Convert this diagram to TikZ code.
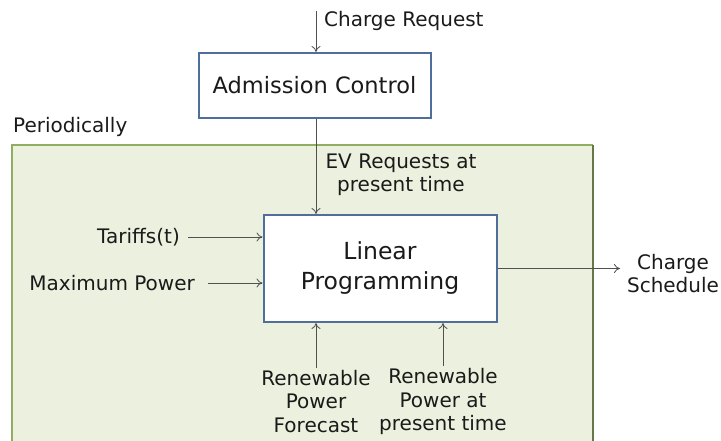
\documentclass[tikz,border=0pt]{standalone}
\usepackage{fontspec}
\setmainfont{DejaVu Sans}
\usetikzlibrary{arrows.meta}
\definecolor{framefill}{HTML}{EBF1DE}
\definecolor{frameline}{HTML}{8FAE62}
\definecolor{frameshade}{HTML}{66784A}
\definecolor{boxline}{HTML}{4F6E9C}
\definecolor{arrowcol}{HTML}{505050}
\definecolor{txt}{HTML}{1A1A1A}
\tikzset{
  procbox/.style={draw=boxline, line width=2pt, fill=white, inner sep=0pt},
  lbl/.style={text=txt, font=\fontsize{20}{23.5}\selectfont, align=center, inner sep=0pt},
  conn/.style={draw=arrowcol, line width=0.8pt, -{To[length=6pt,width=9pt]}},
}
\begin{document}
\begin{tikzpicture}[x=1pt,y=-1pt]
\useasboundingbox (0,0) rectangle (721,441);
% periodic frame
\fill[framefill] (12,145) rectangle (593,450);
\draw[frameline, line width=2.5pt] (12,450) -- (12,145) -- (593,145);
\draw[frameshade, line width=2.5pt] (593,145) -- (593,450);
\node[lbl, anchor=west] (per) at (13,127) {Periodically};
% boxes
\node[procbox, minimum width=232pt, minimum height=65pt, font=\fontsize{22.5}{26}\selectfont, text=txt] (adm) at (314.5,85.5) {Admission Control};
\node[procbox, minimum width=233pt, minimum height=107pt, font=\fontsize{23.5}{30}\selectfont, text=txt, align=center] (lp) at (380,268.5) {Linear\\Programming};
% labels
\coordinate (crtop) at (316,11);
\node[lbl, anchor=west] (cr) at (324,21) {Charge Request};
\node[lbl] (ev) at (401,175) {EV Requests at\\present time};
\node[lbl, anchor=east] (tar) at (180,237) {Tariffs(t)};
\node[lbl, anchor=east] (maxp) at (195,283) {Maximum Power};
\node[lbl] (cs) at (673,273.5) {Charge\\Schedule};
\node[lbl] (rpf) at (316,401.5) {Renewable\\Power\\Forecast};
\node[lbl] (rpp) at (443,401.5) {Renewable\\Power at\\present time};
% connectors
\draw[conn] (crtop) -- (crtop |- adm.north);
\draw[conn] (crtop |- adm.south) -- (crtop |- lp.north);
\draw[conn] ([xshift=8pt]tar.east) -- (lp.west |- tar.east);
\draw[conn] ([xshift=13pt]maxp.east) -- (lp.west |- maxp.east);
\coordinate (csend) at (620,268.5);
\draw[conn] (lp.east) -- (csend);
\draw[conn] ([yshift=2pt]rpf.north) -- (rpf.north |- lp.south);
\draw[conn] ([yshift=2pt]rpp.north) -- (rpp.north |- lp.south);
\end{tikzpicture}
\end{document}
